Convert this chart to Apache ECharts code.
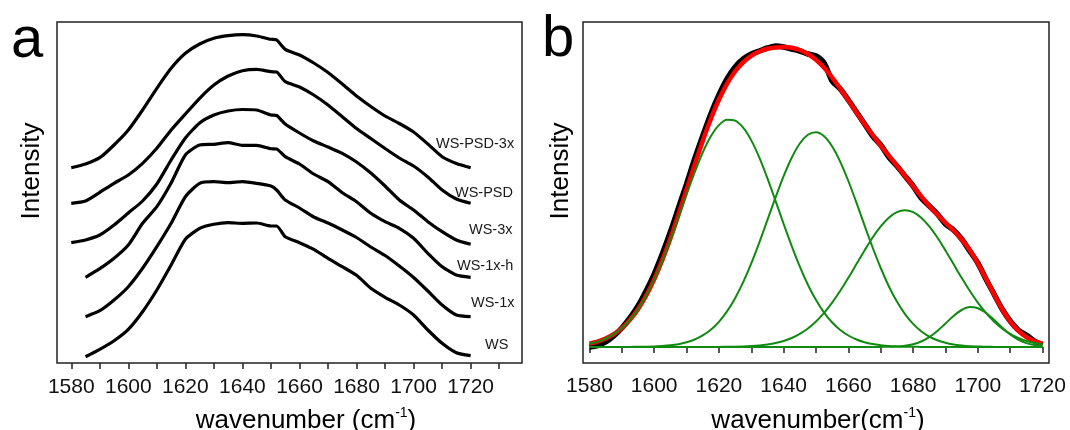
<!DOCTYPE html>
<html><head><meta charset="utf-8">
<script src="https://cdn.jsdelivr.net/npm/echarts@6/dist/echarts.min.js"></script>
<style>html,body{margin:0;padding:0;background:#fff}#c{width:1070px;height:430px}</style>
</head><body><div id="c"></div>
<script>
// panel a wavenumber grid (cm-1)
const wavenumbersA = [1580,1585,1590,1595,1600,1605,1610,1615,1620,1625,1630,1635,1640,1645,1650,1652,1655,1660,1665,1670,1675,1680,1685,1690,1695,1700,1705,1710,1715,1720];

// panel a: stacked spectra (arbitrary intensity, offset)
const wsPsd3x = [195.3,199,205.3,218,233,253,274.7,294.7,309.7,319,324.7,327.3,328.3,327,323.7,323,313.7,308,300,290.5,279,267,256.5,247,239.5,231,219,206.3,199.5,195.3];
const wsPsd   = [159.7,162,170.7,179.7,188,199.7,214.7,233,249,264.7,278,287,292.3,293.7,291.3,291,281.3,276,268,258,246.3,234.5,224.5,214.5,205,197,186,173,164,159.7];
const ws3x    = [120.3,123,128,138,150,162,179,203,225,240,248,252,253.5,253,248,247.5,239,230,222,216,209.7,201,190,177,163,153,141.3,131.3,123,118.7];
const ws1xh   = [null,85.7,94.3,104.7,118,139.7,156.3,180,208,218,218.7,220.3,217.7,217.7,214.3,214,206.3,199,189,181.3,170.3,161.3,149.7,141.3,134.7,124.7,109.7,96.3,88,85.7];
const ws1x    = [null,46.3,52.3,63,76.3,94.7,116.3,139.7,166.3,179.7,181.3,180.3,181.3,179.7,177,173,163,155,146,140,133,125.5,116,107.5,97,85.5,72,58,48,46.3];
const ws      = [null,6.3,13.7,22.3,33.7,51.3,73,98,123.7,134.7,138.7,140.3,139.7,140,137,137,126.3,120.3,113.7,104.7,96.3,87.7,74.7,65.7,58,48,33,19.7,10.3,7.3];
const seriesNamesA = ['WS-PSD-3x','WS-PSD','WS-3x','WS-1x-h','WS-1x','WS'];

// panel b wavenumber grid (cm-1)
const wavenumbersB = [1580,1582.5,1585,1587.5,1590,1592.5,1595,1597.5,1600,1602.5,1605,1607.5,1610,1612.5,1615,1617.5,1620,1622.5,1625,1627.5,1630,1632.5,1635,1637.5,1640,1642.5,1645,1647.5,1650,1652.5,1655,1657.5,1660,1662.5,1665,1667.5,1670,1672.5,1675,1677.5,1680,1682.5,1685,1687.5,1690,1692.5,1695,1697.5,1700,1702.5,1705,1707.5,1710,1712.5,1715,1717.5,1720];

// panel b: measured spectrum, fitted envelope, fitted components
const measured = [0,1.5,5,11,19,29,41,56,73,93,115,139,163,188,211,233,252,268,280,288,293,296,299,301,300,298,296,293,291,284,266,258,247,235,223,211,202,190,181,171,161,149,141,133,123,117,108,96,84,68,53,38,26,17,12,6,2];
const fitted   = [3.4,5.4,8.5,12.8,18.9,27.1,37.8,51.2,67.6,86.9,108.6,132.3,157.2,182.1,206.1,228.0,247.2,263.1,275.5,284.7,291.2,295.5,298.2,299.6,300.0,299.2,297.0,293.0,287.1,279.2,269.4,258.4,246.7,234.7,223.0,212.0,201.5,191.3,181.3,171.2,160.9,150.7,140.9,132.2,124.3,116.4,107.7,96.9,83.7,68.5,52.8,38.0,25.7,16.4,9.9,5.8,3.3];
const peak1623 = [3.4,5.4,8.5,12.8,18.9,27.0,37.6,50.9,67.1,85.9,106.9,129.5,152.5,174.6,194.5,210.7,221.9,227.3,226.4,219.3,206.6,189.3,168.6,146.1,123.1,100.9,80.4,62.3,46.9,34.4,24.5,17.0,11.5,7.5,4.8,3.0,1.8,1.0,0.6,0.3,0.2,0.1,0,0,0,0,0,0,0,0,0,0,0,0,0,0,0];
const peak1650 = [0,0,0,0,0,0.1,0.2,0.3,0.5,1.0,1.7,2.8,4.7,7.5,11.6,17.3,25.2,35.6,48.8,64.9,83.7,104.7,127.1,149.6,170.9,189.3,203.5,212.2,214.7,210.7,200.5,185.2,166.0,144.3,121.6,99.5,79.0,60.8,45.4,32.9,23.1,15.8,10.4,6.7,4.2,2.5,1.5,0.8,0.5,0.2,0.1,0,0,0,0,0,0];
const peak1677 = [0,0,0,0,0,0,0,0,0,0,0,0,0,0,0,0,0.1,0.2,0.3,0.5,0.9,1.5,2.5,3.9,6.0,9.0,13.1,18.5,25.5,34.1,44.4,56.2,69.2,82.9,96.6,109.5,120.6,129.3,134.8,136.7,134.8,129.3,120.6,109.5,96.6,82.9,69.2,56.2,44.4,34.1,25.5,18.5,13.1,9.0,6.0,3.9,2.5];
const peak1698 = [0,0,0,0,0,0,0,0,0,0,0,0,0,0,0,0,0,0,0,0,0,0,0,0,0,0,0,0,0,0,0,0,0,0,0,0,0.1,0.2,0.5,1.3,2.8,5.5,9.9,16.0,23.5,31.0,37.0,39.9,38.8,34.2,27.2,19.5,12.6,7.4,3.9,1.9,0.8];

// axis ticks / labels
const tickLabels = [1580,1600,1620,1640,1660,1680,1700,1720];
const ticksA = [1580,1590,1600,1610,1620,1630,1640,1650,1660,1670,1680,1690,1700,1710,1720,1730];
const ticksB = [1580,1590,1600,1610,1620,1630,1640,1650,1660,1670,1680,1690,1700,1710,1720];

const pairs = (xs, arr) => xs.map((x,i)=>[x,arr[i]]).filter(p=>p[1]!==null);
const FONT = '"Liberation Sans", Arial, sans-serif';

function xAxisFor(grid, min, max, ticks, margin){
  return {gridIndex:grid, type:'value', min:min, max:max,
    axisLine:{show:false}, splitLine:{show:false},
    axisTick:{show:true, inside:false, length:6, customValues:ticks, lineStyle:{color:'#222', width:1.5}},
    axisLabel:{show:true, customValues:tickLabels, formatter:v=>String(v), fontSize:21, color:'#111', fontFamily:FONT, margin:margin}};
}
function yAxisFor(grid, min, max){
  return {gridIndex:grid, type:'value', min:min, max:max, axisLine:{show:false}, axisTick:{show:false}, axisLabel:{show:false}, splitLine:{show:false}};
}

const specA = [wsPsd3x, wsPsd, ws3x, ws1xh, ws1x, ws];
const series = [];
specA.forEach((arr,i)=>series.push({name:seriesNamesA[i], type:'line', xAxisIndex:0, yAxisIndex:0, data:pairs(wavenumbersA, arr), showSymbol:false, smooth:0.2, lineStyle:{color:'#000', width:3.2}}));
series.push({name:'measured', type:'line', xAxisIndex:1, yAxisIndex:1, data:pairs(wavenumbersB, measured), showSymbol:false, smooth:0.3, lineStyle:{color:'#000', width:5.5}});
series.push({name:'fit', type:'line', xAxisIndex:1, yAxisIndex:1, data:pairs(wavenumbersB, fitted), showSymbol:false, smooth:0.3, lineStyle:{color:'#ff0000', width:4.5}});
[peak1623, peak1650, peak1677, peak1698].forEach((arr,i)=>series.push({name:'peak'+i, type:'line', xAxisIndex:1, yAxisIndex:1, data:pairs(wavenumbersB, arr), showSymbol:false, smooth:0.3, lineStyle:{color:'#118a11', width:2}}));

const labelPos = [[436,144],[455,193],[469,230],[457,266],[471,303],[485,345]];
const graphic = [
  {type:'text', x:11, y:41, style:{text:'a', fontSize:58, fontFamily:FONT, fill:'#000', align:'left', verticalAlign:'middle'}},
  {type:'text', x:542, y:40, style:{text:'b', fontSize:58, fontFamily:FONT, fill:'#000', align:'left', verticalAlign:'middle'}},
  {type:'text', x:32, y:171, rotation:Math.PI/2, style:{text:'Intensity', fontSize:26, fontFamily:FONT, fill:'#000', align:'center', verticalAlign:'middle'}},
  {type:'text', x:561, y:171, rotation:Math.PI/2, style:{text:'Intensity', fontSize:26, fontFamily:FONT, fill:'#000', align:'center', verticalAlign:'middle'}},
  {type:'text', x:306, y:421, style:{text:'wavenumber (cm{sup|-1})', fontSize:26, fontFamily:FONT, fill:'#000', align:'center', verticalAlign:'middle', lineHeight:30, rich:{sup:{fontSize:14, fontFamily:FONT, fill:'#000', verticalAlign:'top', lineHeight:14}}}},
  {type:'text', x:818, y:421, style:{text:'wavenumber(cm{sup|-1})', fontSize:26, fontFamily:FONT, fill:'#000', align:'center', verticalAlign:'middle', lineHeight:30, rich:{sup:{fontSize:14, fontFamily:FONT, fill:'#000', verticalAlign:'top', lineHeight:14}}}}
];
seriesNamesA.forEach((n,i)=>graphic.push({type:'text', x:labelPos[i][0], y:labelPos[i][1], style:{text:n, fontSize:14.5, fontFamily:FONT, fill:'#1a1a1a', align:'left', verticalAlign:'middle'}}));

const chart = echarts.init(document.getElementById('c'), null, {renderer:'canvas'});
chart.setOption({
  animation:false,
  backgroundColor:'#fff',
  grid:[
    {left:57, top:22, width:465, height:341, show:true, borderColor:'#222', borderWidth:1.5, backgroundColor:'transparent'},
    {left:583, top:22, width:466, height:341, show:true, borderColor:'#222', borderWidth:1.5, backgroundColor:'transparent'}
  ],
  xAxis:[xAxisFor(0,1575,1738,ticksA,14), xAxisFor(1,1578,1722,ticksB,13)],
  yAxis:[yAxisFor(0,0,341), yAxisFor(1,-16,325)],
  graphic:graphic,
  series:series
});
</script></body></html>
